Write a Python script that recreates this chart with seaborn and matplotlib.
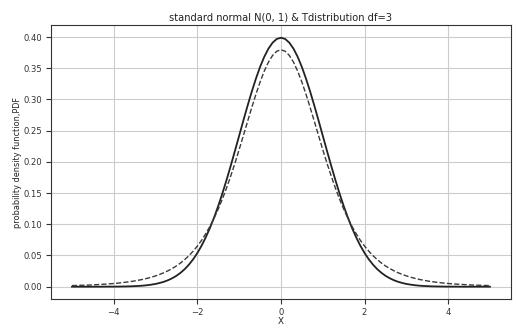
import matplotlib
matplotlib.use("Agg")
import matplotlib.pyplot as plt
import seaborn as sns
import pandas as pd

x_values = [-5.0, -4.9, -4.8, -4.7, -4.6, -4.5, -4.4, -4.3, -4.2, -4.1,
            -4.0, -3.9, -3.8, -3.7, -3.6, -3.5, -3.4, -3.3, -3.2, -3.1,
            -3.0, -2.9, -2.8, -2.7, -2.6, -2.5, -2.4, -2.3, -2.2, -2.1,
            -2.0, -1.9, -1.8, -1.7, -1.6, -1.5, -1.4, -1.3, -1.2, -1.1,
            -1.0, -0.9, -0.8, -0.7, -0.6, -0.5, -0.4, -0.3, -0.2, -0.1,
            0.0,
            0.1, 0.2, 0.3, 0.4, 0.5, 0.6, 0.7, 0.8, 0.9, 1.0,
            1.1, 1.2, 1.3, 1.4, 1.5, 1.6, 1.7, 1.8, 1.9, 2.0,
            2.1, 2.2, 2.3, 2.4, 2.5, 2.6, 2.7, 2.8, 2.9, 3.0,
            3.1, 3.2, 3.3, 3.4, 3.5, 3.6, 3.7, 3.8, 3.9, 4.0,
            4.1, 4.2, 4.3, 4.4, 4.5, 4.6, 4.7, 4.8, 4.9, 5.0]

normal_pdf = [0.0000, 0.0000, 0.0000, 0.0000, 0.0000, 0.0000, 0.0000, 0.0000, 0.0001, 0.0001,
              0.0001, 0.0002, 0.0003, 0.0004, 0.0006, 0.0009, 0.0012, 0.0017, 0.0024, 0.0033,
              0.0044, 0.0060, 0.0079, 0.0104, 0.0136, 0.0175, 0.0224, 0.0283, 0.0355, 0.0440,
              0.0540, 0.0656, 0.0790, 0.0940, 0.1109, 0.1295, 0.1497, 0.1714, 0.1942, 0.2179,
              0.2420, 0.2661, 0.2897, 0.3123, 0.3332, 0.3521, 0.3683, 0.3814, 0.3910, 0.3970,
              0.3989,
              0.3970, 0.3910, 0.3814, 0.3683, 0.3521, 0.3332, 0.3123, 0.2897, 0.2661, 0.2420,
              0.2179, 0.1942, 0.1714, 0.1497, 0.1295, 0.1109, 0.0940, 0.0790, 0.0656, 0.0540,
              0.0440, 0.0355, 0.0283, 0.0224, 0.0175, 0.0136, 0.0104, 0.0079, 0.0060, 0.0044,
              0.0033, 0.0024, 0.0017, 0.0012, 0.0009, 0.0006, 0.0004, 0.0003, 0.0002, 0.0001,
              0.0001, 0.0001, 0.0000, 0.0000, 0.0000, 0.0000, 0.0000, 0.0000, 0.0000, 0.0000]

t_pdf = [0.0018, 0.0019, 0.0022, 0.0024, 0.0026, 0.0029, 0.0033, 0.0037, 0.0041, 0.0046,
         0.0051, 0.0057, 0.0065, 0.0073, 0.0082, 0.0092, 0.0105, 0.0118, 0.0134, 0.0152,
         0.0173, 0.0197, 0.0224, 0.0256, 0.0292, 0.0333, 0.0381, 0.0436, 0.0498, 0.0570,
         0.0651, 0.0743, 0.0848, 0.0966, 0.1098, 0.1245, 0.1407, 0.1585, 0.1777, 0.1981,
         0.2197, 0.2420, 0.2645, 0.2868, 0.3081, 0.3279, 0.3454, 0.3598, 0.3706, 0.3773,
         0.3796,
         0.3773, 0.3706, 0.3598, 0.3454, 0.3279, 0.3081, 0.2868, 0.2645, 0.2420, 0.2197,
         0.1981, 0.1777, 0.1585, 0.1407, 0.1245, 0.1098, 0.0966, 0.0848, 0.0743, 0.0651,
         0.0570, 0.0498, 0.0436, 0.0381, 0.0333, 0.0292, 0.0256, 0.0224, 0.0197, 0.0173,
         0.0152, 0.0134, 0.0118, 0.0105, 0.0092, 0.0082, 0.0073, 0.0065, 0.0057, 0.0051,
         0.0046, 0.0041, 0.0037, 0.0033, 0.0029, 0.0026, 0.0024, 0.0022, 0.0019, 0.0018]

df = pd.DataFrame({"x": x_values, "normal": normal_pdf, "t": t_pdf})

plt.rcParams["font.family"] = ["DejaVu Sans"]
plt.rcParams["font.size"] = 7

fig = plt.figure(figsize=(5.16, 3.3), dpi=100)
ax = fig.add_axes([0.099, 0.094, 0.891, 0.830])

sns.lineplot(data=df, x="x", y="normal", ax=ax, color="#222222", linewidth=1.3)
sns.lineplot(data=df, x="x", y="t", ax=ax, color="#3a3a3a", linewidth=1.0, linestyle="--")

ax.grid(True, color="#cccccc", linewidth=0.8)
ax.set_axisbelow(True)
ax.set_xticks([-4, -2, 0, 2, 4])
ax.set_yticks([0.0, 0.05, 0.10, 0.15, 0.20, 0.25, 0.30, 0.35, 0.40])
ax.set_yticklabels(["0.00", "0.05", "0.10", "0.15", "0.20", "0.25", "0.30", "0.35", "0.40"])
ax.set_xlim(-5.5, 5.5)
ax.set_ylim(-0.0197, 0.4192)
ax.tick_params(colors="#333333", labelsize=6.1, pad=3)
for s in ax.spines.values():
    s.set_color("#333333")

ax.set_title("standard normal N(0, 1) & Tdistribution df=3", fontsize=7.1,
             color="#222222", pad=3.5)
ax.set_xlabel("X", fontsize=6.3, color="#222222")
ax.set_ylabel("probability density function,PDF", fontsize=5.9, color="#222222")
ax.xaxis.set_label_coords(0.5, -0.066)
ax.yaxis.set_label_coords(-0.064, 0.5)

fig.savefig("out.png", dpi=100)
